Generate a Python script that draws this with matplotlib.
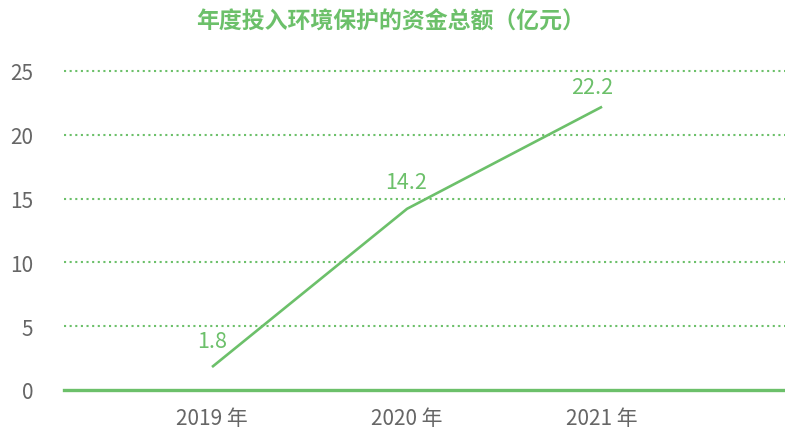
import matplotlib
matplotlib.use("Agg")
import matplotlib.pyplot as plt

plt.rcParams['font.family'] = ['Noto Sans CJK SC', 'DejaVu Sans']

categories = ["2019 年", "2020 年", "2021 年"]
values = [1.8, 14.2, 22.2]
yticks = [0, 5, 10, 15, 20, 25]

green = '#6cc06a'
grey = '#666666'

fig = plt.figure(figsize=(7.85, 4.39), dpi=100)
ax = fig.add_axes([64/785, 48/439, 1 - 64/785, (390-71)/439])

x = list(range(len(categories)))
ax.plot(x, values, color=green, lw=1.9, solid_capstyle='butt', zorder=3)
offsets = [(0, 19), (-1, 19), (-7, 14)]
for xi, v, off in zip(x, values, offsets):
    ax.annotate(f"{v}", (xi, v), xytext=off, textcoords='offset points',
                ha='center', va='center', color=green, fontsize=15.5, fontweight='light')

ax.set_xlim(-0.759, 2.938)
ax.set_ylim(0, 25)
ax.set_yticks(yticks)
ax.set_yticklabels([str(t) for t in yticks], color=grey, fontsize=15, fontweight='light')
ax.set_xticks(x)
ax.set_xticklabels(categories, color=grey, fontsize=15, fontweight='light')
ax.tick_params(axis='both', length=0)
ax.tick_params(axis='y', pad=22)
ax.tick_params(axis='x', pad=12)
for yt in yticks[1:]:
    ax.axhline(yt, color=green, lw=1.5, ls=(0, (1, 1.7)), zorder=1, clip_on=False)
for s in ['top', 'right', 'left']:
    ax.spines[s].set_visible(False)
ax.spines['bottom'].set_color(green)
ax.spines['bottom'].set_linewidth(2.4)
ax.spines['bottom'].set_zorder(4)

fig.text(0.5 - 2/785, 1 - 22/439, "年度投入环境保护的资金总额（亿元）", ha='center', va='center',
         color=green, fontsize=16.5, fontweight='bold')

fig.savefig("out.png", dpi=100)
